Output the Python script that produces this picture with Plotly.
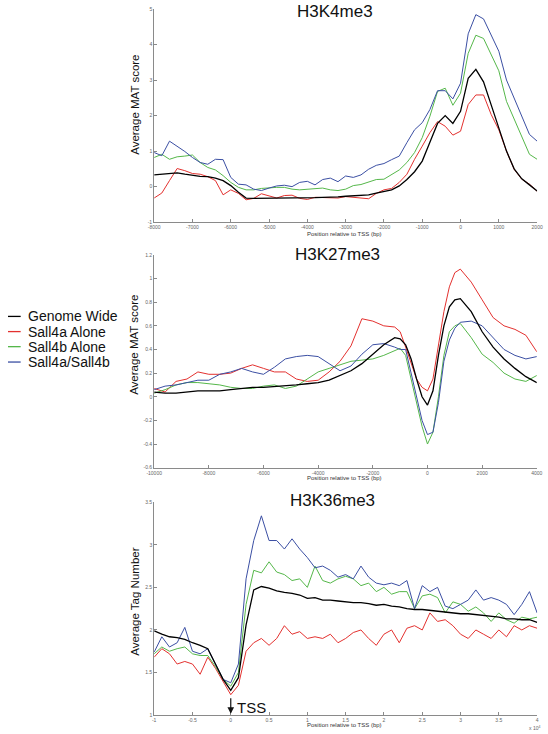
import plotly.graph_objects as go

W, H = 548, 734

# ---------------- data ----------------
series_names = ["Genome Wide", "Sall4a Alone", "Sall4b Alone", "Sall4a/Sall4b"]
series_colors = ["#000000", "#e3312f", "#55b74a", "#3b4fa3"]

# H3K4me3 (bp relative to TSS)
k4_x = list(range(-8000, 2001, 200))
k4_genome = [0.33, 0.35, 0.38, 0.39, 0.35, 0.31, 0.29, 0.28, 0.24, 0.17,
             0.03, -0.16, -0.32, -0.33, -0.33, -0.33, -0.33, -0.33, -0.33, -0.33,
             -0.32, -0.31, -0.30, -0.30, -0.29, -0.27, -0.26, -0.25, -0.23, -0.18,
             -0.13, -0.09, 0.02, 0.20, 0.42, 0.72, 1.25, 1.78, 2.00, 1.78,
             2.12, 3.05, 3.30, 2.95, 2.30, 1.65, 1.00, 0.50, 0.22, 0.05, -0.12]
k4_sall4a = [-0.32, -0.18, 0.17, 0.51, 0.45, 0.37, 0.35, 0.28, 0.17, -0.23,
             -0.09, -0.19, -0.37, -0.33, -0.20, -0.25, -0.32, -0.25, -0.24, -0.33,
             -0.36, -0.30, -0.30, -0.30, -0.32, -0.28, -0.30, -0.33, -0.34, -0.19,
             -0.09, -0.05, 0.12, 0.35, 0.77, 1.14, 1.52, 1.83, 1.70, 1.45,
             1.56, 2.31, 2.58, 2.58, 2.03, 1.60, 1.00, 0.49, 0.21, 0.07, -0.13]
k4_sall4b = [0.82, 0.91, 0.77, 0.84, 0.86, 0.89, 0.68, 0.54, 0.47, 0.31,
             0.12, -0.02, -0.09, -0.09, -0.05, -0.03, -0.02, -0.02, -0.07, -0.09,
             -0.07, -0.05, -0.04, -0.09, -0.11, -0.07, 0.03, 0.06, 0.12, 0.20,
             0.21, 0.33, 0.47, 0.68, 0.96, 1.38, 1.98, 2.68, 2.77, 2.29,
             2.63, 3.75, 4.26, 4.17, 3.70, 3.26, 2.40, 1.89, 1.42, 0.91, 0.77]
k4_both = [0.96, 0.87, 1.28, 1.14, 0.99, 0.82, 0.68, 0.63, 0.77, 0.76,
           0.26, 0.07, 0.05, -0.07, -0.11, -0.04, 0.02, 0.04, 0.00, 0.12,
           0.15, 0.05, 0.20, 0.24, 0.14, 0.30, 0.26, 0.33, 0.49, 0.60,
           0.65, 0.76, 0.86, 1.24, 1.60, 1.80, 2.17, 2.70, 2.70, 2.47,
           2.91, 4.30, 4.84, 4.72, 4.26, 3.81, 3.00, 2.49, 1.98, 1.47, 1.28]
k4_xticks = [-8000, -7000, -6000, -5000, -4000, -3000, -2000, -1000, 0, 1000, 2000]
k4_yticks = [-1, 0, 1, 2, 3, 4, 5]

# H3K27me3 (bp relative to TSS)
k27_x = [-10000, -9600, -9200, -8800, -8400, -8000, -7600, -7200, -6800, -6400,
         -6000, -5600, -5200, -4800, -4400, -4000, -3600, -3200, -2800, -2400,
         -2000, -1600, -1200, -1000, -800, -600, -400, -200, 0, 200,
         400, 600, 800, 1000, 1200, 1600, 2000, 2400, 2800, 3200, 3600, 4000]
k27_genome = [0.04, 0.03, 0.03, 0.04, 0.05, 0.05, 0.05, 0.06, 0.07, 0.08,
              0.08, 0.085, 0.09, 0.10, 0.11, 0.12, 0.14, 0.18, 0.22, 0.28,
              0.36, 0.44, 0.50, 0.49, 0.44, 0.32, 0.15, 0.00, -0.07, 0.05,
              0.35, 0.60, 0.76, 0.82, 0.83, 0.72, 0.55, 0.42, 0.32, 0.24, 0.17, 0.12]
k27_sall4a = [0.07, 0.04, 0.13, 0.15, 0.21, 0.19, 0.19, 0.20, 0.24, 0.27,
              0.24, 0.21, 0.21, 0.15, 0.13, 0.14, 0.21, 0.30, 0.43, 0.66,
              0.64, 0.60, 0.59, 0.55, 0.42, 0.28, 0.15, 0.08, 0.05, 0.15,
              0.42, 0.72, 0.93, 1.05, 1.08, 0.97, 0.82, 0.67, 0.60, 0.57, 0.52, 0.38]
k27_sall4b = [0.03, 0.06, 0.10, 0.12, 0.12, 0.11, 0.10, 0.08, 0.07, 0.07,
              0.09, 0.10, 0.07, 0.09, 0.15, 0.21, 0.24, 0.27, 0.30, 0.31,
              0.32, 0.35, 0.39, 0.41, 0.35, 0.15, -0.05, -0.25, -0.40, -0.30,
              0.00, 0.35, 0.55, 0.60, 0.62, 0.50, 0.36, 0.29, 0.20, 0.15, 0.13, 0.18]
k27_both = [0.06, 0.09, 0.10, 0.12, 0.14, 0.14, 0.19, 0.21, 0.24, 0.21,
            0.19, 0.25, 0.32, 0.34, 0.35, 0.34, 0.28, 0.22, 0.26, 0.36,
            0.44, 0.45, 0.42, 0.40, 0.40, 0.20, 0.00, -0.20, -0.32, -0.30,
            -0.05, 0.30, 0.48, 0.58, 0.63, 0.64, 0.60, 0.50, 0.40, 0.35, 0.32, 0.34]
k27_xticks = [-10000, -8000, -6000, -4000, -2000, 0, 2000, 4000]
k27_yticks = [-0.6, -0.4, -0.2, 0, 0.2, 0.4, 0.6, 0.8, 1, 1.2]

# H3K36me3 (x in units of 10^4 bp relative to TSS)
k36_x = [-1.0, -0.9, -0.8, -0.7, -0.6, -0.5, -0.4, -0.3, -0.2, -0.1,
         0.0, 0.1, 0.2, 0.3, 0.4, 0.5, 0.6, 0.7, 0.8, 0.9,
         1.0, 1.1, 1.2, 1.3, 1.4, 1.5, 1.6, 1.7, 1.8, 1.9,
         2.0, 2.1, 2.2, 2.3, 2.4, 2.5, 2.6, 2.7, 2.8, 2.9,
         3.0, 3.1, 3.2, 3.3, 3.4, 3.5, 3.6, 3.7, 3.8, 3.9, 4.0]
k36_genome = [1.99, 1.95, 1.92, 1.91, 1.89, 1.85, 1.82, 1.78, 1.60, 1.42,
              1.29, 1.44, 2.06, 2.47, 2.51, 2.49, 2.46, 2.44, 2.43, 2.41,
              2.37, 2.38, 2.35, 2.35, 2.34, 2.33, 2.32, 2.32, 2.31, 2.29,
              2.30, 2.28, 2.27, 2.25, 2.24, 2.24, 2.23, 2.22, 2.21, 2.20,
              2.19, 2.19, 2.18, 2.17, 2.16, 2.15, 2.13, 2.13, 2.12, 2.12, 2.09]
k36_sall4a = [1.68, 1.78, 1.72, 1.60, 1.63, 1.60, 1.48, 1.68, 1.55, 1.40,
              1.24, 1.35, 1.75, 1.85, 1.90, 1.82, 1.90, 2.05, 1.95, 1.98,
              1.90, 1.92, 1.90, 1.95, 1.85, 1.90, 1.97, 2.00, 1.90, 1.82,
              1.95, 2.00, 1.85, 2.02, 2.05, 2.00, 2.20, 2.10, 2.12, 2.05,
              1.95, 1.90, 2.00, 1.95, 1.90, 2.00, 1.92, 2.05, 2.00, 2.05, 2.02]
k36_sall4b = [1.72, 1.80, 1.75, 1.78, 1.80, 1.72, 1.70, 1.70, 1.57, 1.42,
              1.34, 1.50, 2.30, 2.70, 2.67, 2.80, 2.68, 2.65, 2.58, 2.60,
              2.50, 2.75, 2.58, 2.55, 2.60, 2.63, 2.60, 2.52, 2.55, 2.45,
              2.50, 2.42, 2.45, 2.45, 2.25, 2.40, 2.42, 2.38, 2.20, 2.33,
              2.30, 2.22, 2.27, 2.20, 2.10, 2.20, 2.12, 2.08, 2.15, 2.13, 2.15]
k36_both = [1.74, 1.92, 1.80, 1.85, 2.03, 1.75, 1.72, 1.78, 1.60, 1.42,
            1.38, 1.60, 2.60, 3.05, 3.34, 3.05, 3.05, 2.95, 3.07, 2.95,
            2.85, 2.73, 2.75, 2.70, 2.62, 2.65, 2.60, 2.75, 2.62, 2.55,
            2.53, 2.55, 2.52, 2.58, 2.25, 2.52, 2.45, 2.50, 2.28, 2.25,
            2.30, 2.35, 2.47, 2.35, 2.38, 2.35, 2.30, 2.18, 2.30, 2.45, 2.20]
k36_xticks = [-1, -0.5, 0, 0.5, 1, 1.5, 2, 2.5, 3, 3.5, 4]
k36_yticks = [1, 1.5, 2, 2.5, 3, 3.5]

panels = [
    dict(title="H3K4me3", ytitle="Average MAT score", x=k4_x,
         ys=[k4_genome, k4_sall4a, k4_sall4b, k4_both],
         xr=[-8000, 2000], yr=[-1, 5], xt=k4_xticks, yt=k4_yticks),
    dict(title="H3K27me3", ytitle="Average MAT score", x=k27_x,
         ys=[k27_genome, k27_sall4a, k27_sall4b, k27_both],
         xr=[-10000, 4000], yr=[-0.6, 1.2], xt=k27_xticks, yt=k27_yticks),
    dict(title="H3K36me3", ytitle="Average Tag Number", x=k36_x,
         ys=[k36_genome, k36_sall4a, k36_sall4b, k36_both],
         xr=[-1, 4], yr=[1, 3.5], xt=k36_xticks, yt=k36_yticks),
]

# ---------------- layout geometry (pixels) ----------------
FONT = "Liberation Sans, Arial, Helvetica, sans-serif"
def px(x):
    return x / W
def py(y):
    return 1 - y / H

geo = [
    dict(x0=150, x1=543, top=6, bot=221, tx=336, ty=8.5, yty=103, xty=233),
    dict(x0=150, x1=542.7, top=254, bot=468.5, tx=338, ty=253.7, yty=345, xty=479.3),
    dict(x0=150, x1=543, top=503.3, bot=718, tx=333, ty=501.7, yty=604, xty=728.3),
]

def fmt(v):
    return "%g" % v

fig = go.Figure()
annotations = []
layout_axes = {}
for i, (p, g) in enumerate(zip(panels, geo)):
    n = i + 1
    xa = "x" if n == 1 else "x%d" % n
    ya = "y" if n == 1 else "y%d" % n
    order = [1, 2, 3, 0]  # draw black on top
    for k in order:
        fig.add_trace(go.Scatter(
            x=p["x"], y=p["ys"][k], mode="lines", name=series_names[k],
            line=dict(color=series_colors[k], width=1.3 if k == 0 else 1.0),
            xaxis=xa, yaxis=ya, showlegend=False, hoverinfo="skip"))
    common = dict(showgrid=False, zeroline=False, showline=True, linecolor="#8a8a8a",
                  linewidth=1, ticks="inside", ticklen=3, tickcolor="#8a8a8a",
                  tickfont=dict(family=FONT, size=5, color="#666666"), mirror=False,
                  ticklabeloverflow="allow")
    layout_axes["xaxis" if n == 1 else "xaxis%d" % n] = dict(
        common, domain=[px(g["x0"]), px(g["x1"])], range=p["xr"],
        tickmode="array", tickvals=p["xt"], ticktext=[fmt(v) for v in p["xt"]],
        anchor=ya)
    layout_axes["yaxis" if n == 1 else "yaxis%d" % n] = dict(
        common, domain=[py(g["bot"]), py(g["top"])], range=p["yr"],
        tickmode="array", tickvals=p["yt"], ticktext=[fmt(v) for v in p["yt"]],
        anchor=xa)
    annotations.append(dict(text=p["title"], x=px(g["tx"]), y=py(g["ty"]),
                            xref="paper", yref="paper", showarrow=False,
                            xanchor="center", yanchor="middle",
                            font=dict(family=FONT, size=17, color="#111111")))
    annotations.append(dict(text=p["ytitle"], x=px(130), y=py(g["yty"]),
                            xref="paper", yref="paper", showarrow=False, textangle=-90,
                            xanchor="center", yanchor="middle",
                            font=dict(family=FONT, size=11.5, color="#111111")))
    annotations.append(dict(text="Position relative to TSS (bp)", x=px(345), y=py(g["xty"]),
                            xref="paper", yref="paper", showarrow=False,
                            xanchor="center", yanchor="middle",
                            font=dict(family=FONT, size=6, color="#333333")))

# x10^4 multiplier on bottom axis
annotations.append(dict(text="x 10<sup>4</sup>", x=px(540), y=py(731), xref="paper", yref="paper",
                        showarrow=False, xanchor="center", yanchor="middle",
                        font=dict(family=FONT, size=5, color="#666666")))
# TSS arrow
annotations.append(dict(text="", x=0, y=1.015, xref="x3", yref="y3", showarrow=True,
                        ax=0, ay=-17, arrowhead=2, arrowsize=1.1, arrowwidth=1.2,
                        arrowcolor="#111111"))
annotations.append(dict(text="TSS", x=px(233), y=py(710), xref="paper", yref="paper",
                        showarrow=False, xanchor="left", yanchor="middle",
                        font=dict(family=FONT, size=15, color="#111111")))

# legend (manual)
shapes = []
leg_y = [316, 331.3, 346.5, 362]
for k in range(4):
    shapes.append(dict(type="line", xref="paper", yref="paper",
                       x0=0, x1=px(13), y0=py(leg_y[k]), y1=py(leg_y[k]),
                       line=dict(color=series_colors[k], width=1.3)))
    annotations.append(dict(text=series_names[k], x=px(18), y=py(leg_y[k]),
                            xref="paper", yref="paper", showarrow=False,
                            xanchor="left", yanchor="middle",
                            font=dict(family=FONT, size=14, color="#111111")))

fig.update_layout(width=W, height=H, margin=dict(l=0, r=0, t=0, b=0),
                  paper_bgcolor="white", plot_bgcolor="white",
                  annotations=annotations, shapes=shapes, showlegend=False,
                  **layout_axes)
fig.write_html("out.html", config={"displayModeBar": False},
               post_script="document.body.style.margin='0';document.body.style.overflow='hidden';")
